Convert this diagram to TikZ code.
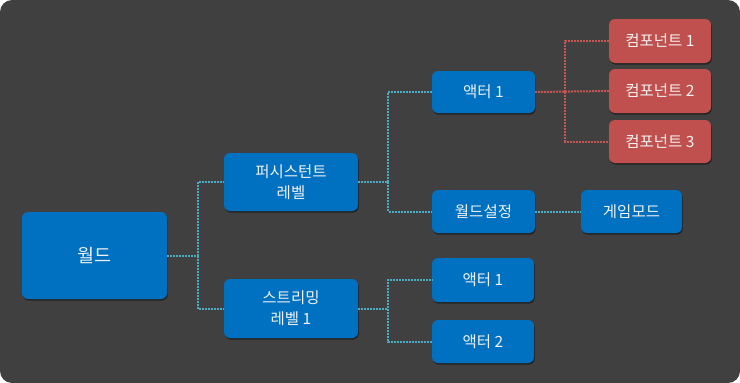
\documentclass[tikz,border=0pt]{standalone}
\usepackage{fontspec}
\setmainfont{Noto Sans CJK KR}
\usetikzlibrary{shadows}
\definecolor{bgdark}{HTML}{404040}
\definecolor{boxblue}{HTML}{0070C0}
\definecolor{boxred}{HTML}{C0504D}
\definecolor{linkteal}{HTML}{4BACC6}
\definecolor{linkred}{HTML}{C65654}
\definecolor{txt}{HTML}{F2F2F2}
\tikzset{
  basebox/.style={rounded corners=6pt, text=txt, align=center, inner sep=0pt,
    font=\fontsize{15.5}{21}\selectfont,
    drop shadow={shadow xshift=0.8pt, shadow yshift=-1.6pt, opacity=0.45, fill=black}},
  bluebox/.style={basebox, fill=boxblue},
  redbox/.style={basebox, fill=boxred},
  tlink/.style={draw=linkteal, line width=2pt, dash pattern=on 2pt off 1pt},
  rlink/.style={draw=linkred, line width=2pt, dash pattern=on 2pt off 1pt},
}
\begin{document}
\begin{tikzpicture}[x=1pt,y=-1pt]
\useasboundingbox (0,0) rectangle (740,383);
\fill[bgdark, rounded corners=12pt] (0,0) rectangle (740,383);

\coordinate (j1) at (198,255.5);
\coordinate (j2) at (388,182);
\coordinate (j3) at (565,92);
\coordinate (j4) at (388,308.5);

\node[bluebox, minimum width=145pt, minimum height=87pt, font=\fontsize{18.5}{21}\selectfont] (world) at (94.5,255.5) {월드};
\node[bluebox, minimum width=134pt, minimum height=58pt] (pers) at (291,182) {퍼시스턴트\\레벨};
\node[bluebox, minimum width=134pt, minimum height=59pt] (stream) at (291,308.5) {스트리밍\\레벨 1};
\node[bluebox, minimum width=103pt, minimum height=42pt] (actA) at (483.5,92) {액터 1};
\node[bluebox, minimum width=103pt, minimum height=43pt] (wset) at (483.5,211.5) {월드설정};
\node[bluebox, minimum width=101pt, minimum height=43pt] (gmode) at (631.5,211.5) {게임모드};
\node[redbox, minimum width=102pt, minimum height=44pt] (comp1) at (660,41) {컴포넌트 1};
\node[redbox, minimum width=102pt, minimum height=44pt] (comp2) at (660,91) {컴포넌트 2};
\node[redbox, minimum width=102pt, minimum height=43pt] (comp3) at (660,141.5) {컴포넌트 3};
\node[bluebox, minimum width=102pt, minimum height=44pt] (actB) at (483,280) {액터 1};
\node[bluebox, minimum width=102pt, minimum height=43pt] (actC) at (483,341.5) {액터 2};

\draw[tlink] (world.east) -- (j1) |- (pers.west);
\draw[tlink] (j1) |- (stream.west);
\draw[tlink] (pers.east) -- (j2) |- (actA.west);
\draw[tlink] (j2) |- (wset.west);
\draw[tlink] (wset.east) -- (gmode.west);
\draw[tlink] (stream.east) -- (j4) |- (actB.west);
\draw[tlink] (j4) |- (actC.west);
\draw[rlink] (actA.east) -- (comp2.west);
\draw[rlink] (j3) |- (comp1.west);
\draw[rlink] (j3) |- (comp3.west);
\end{tikzpicture}
\end{document}
